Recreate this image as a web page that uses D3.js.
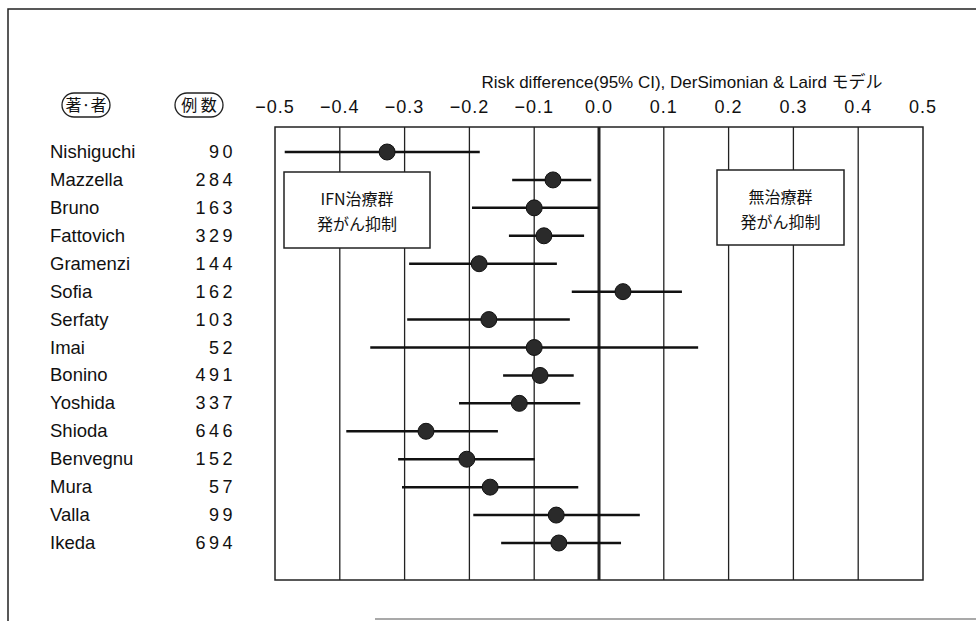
<!DOCTYPE html>
<html>
<head>
<meta charset="utf-8">
<script src="https://cdn.jsdelivr.net/npm/d3@7"></script>
<style>
  body { margin: 0; background: #fff; }
  text { fill: #111; }
</style>
</head>
<body>
<svg width="976" height="621"></svg>
<script>
// study data
var authors = ["Nishiguchi", "Mazzella", "Bruno", "Fattovich", "Gramenzi", "Sofia", "Serfaty", "Imai",
               "Bonino", "Yoshida", "Shioda", "Benvegnu", "Mura", "Valla", "Ikeda"];
var cases = [90, 284, 163, 329, 144, 162, 103, 52, 491, 337, 646, 152, 57, 99, 694];
var riskDiff = [-0.327, -0.071, -0.100, -0.085, -0.185, 0.037, -0.170, -0.100,
                -0.091, -0.123, -0.267, -0.204, -0.168, -0.066, -0.062];
var ciLow = [-0.485, -0.134, -0.196, -0.139, -0.293, -0.042, -0.296, -0.353,
             -0.148, -0.216, -0.390, -0.310, -0.304, -0.194, -0.151];
var ciHigh = [-0.184, -0.012, 0.0, -0.023, -0.065, 0.128, -0.045, 0.153,
              -0.039, -0.029, -0.156, -0.099, -0.032, 0.063, 0.034];
var ticks = [-0.5, -0.4, -0.3, -0.2, -0.1, 0.0, 0.1, 0.2, 0.3, 0.4, 0.5];

var svg = d3.select("svg");
var latin = "'Liberation Sans', Arial, sans-serif";
var jp = "'Noto Sans CJK JP', sans-serif";

// outer frame (page border)
svg.append("path")
    .attr("d", "M8,621 V9 H976")
    .attr("fill", "none")
    .attr("stroke", "#222")
    .attr("stroke-width", 1.5);
svg.append("line")
    .attr("x1", 375).attr("x2", 976).attr("y1", 619).attr("y2", 619)
    .attr("stroke", "#555").attr("stroke-width", 1.2);

// scales
var x = d3.scaleLinear().domain([-0.5, 0.5]).range([275, 923]);
var y = d3.scalePoint().domain(authors).range([152, 543]);
var plotTop = 127, plotBottom = 580;

// gridlines
svg.append("g").selectAll("line")
    .data(ticks.slice(1, -1))
    .enter().append("line")
        .attr("x1", d => x(d)).attr("x2", d => x(d))
        .attr("y1", plotTop).attr("y2", plotBottom)
        .attr("stroke", "#222")
        .attr("stroke-width", d => d === 0 ? 3 : 1.3);

// plot frame
svg.append("rect")
    .attr("x", x(-0.5)).attr("y", plotTop)
    .attr("width", x(0.5) - x(-0.5)).attr("height", plotBottom - plotTop)
    .attr("fill", "none")
    .attr("stroke", "#222")
    .attr("stroke-width", 1.5);

// tick labels
svg.append("g").selectAll("text")
    .data(ticks)
    .enter().append("text")
        .attr("x", d => x(d))
        .attr("y", 113)
        .attr("text-anchor", "middle")
        .style("font-family", latin)
        .style("font-size", "18px")
        .style("font-weight", 300)
        .style("letter-spacing", "1px")
        .text(d => (d < 0 ? "\u2212" : "") + Math.abs(d).toFixed(1));

// title
svg.append("text")
    .attr("x", 682).attr("y", 88)
    .attr("text-anchor", "middle")
    .style("font-family", latin)
    .style("font-size", "17px")
    .text("Risk difference(95% CI), DerSimonian & Laird ")
  .append("tspan")
    .style("font-family", jp)
    .text("モデル");

// column headers with rounded borders
var headers = [{t: "著·者", cx: 86}, {t: "例 数", cx: 199}];
headers.forEach(function (h) {
    svg.append("rect")
        .attr("x", h.cx - 24).attr("y", 93)
        .attr("width", 48).attr("height", 24)
        .attr("rx", 12)
        .attr("fill", "none")
        .attr("stroke", "#222")
        .attr("stroke-width", 1.3);
    svg.append("text")
        .attr("x", h.cx).attr("y", 111)
        .attr("text-anchor", "middle")
        .style("font-family", jp)
        .style("font-size", "16px")
        .text(h.t);
});

// row labels
svg.append("g").selectAll("text")
    .data(authors)
    .enter().append("text")
        .attr("x", 50)
        .attr("y", d => y(d) + 6)
        .style("font-family", latin)
        .style("font-size", "18.5px")
        .text(d => d);

svg.append("g").selectAll("text")
    .data(cases)
    .enter().append("text")
        .attr("x", 236)
        .attr("y", (d, i) => y(authors[i]) + 6)
        .attr("text-anchor", "end")
        .style("font-family", latin)
        .style("font-size", "18px")
        .style("font-weight", 300)
        .style("letter-spacing", "3.5px")
        .text(d => d);

// confidence intervals
svg.append("g").selectAll("line")
    .data(authors)
    .enter().append("line")
        .attr("x1", (d, i) => x(ciLow[i]))
        .attr("x2", (d, i) => x(ciHigh[i]))
        .attr("y1", d => y(d)).attr("y2", d => y(d))
        .attr("stroke", "#111")
        .attr("stroke-width", 2.5);

// point estimates
svg.append("g").selectAll("circle")
    .data(authors)
    .enter().append("circle")
        .attr("cx", (d, i) => x(riskDiff[i]))
        .attr("cy", d => y(d))
        .attr("r", 8)
        .attr("fill", "#2a2a2a")
        .attr("stroke", "#111")
        .attr("stroke-width", 1);

// annotation boxes
var notes = [
    {x0: 284, y0: 172, w: 146, h: 76, lines: ["IFN治療群", "発がん抑制"]},
    {x0: 717, y0: 170, w: 127, h: 75, lines: ["無治療群", "発がん抑制"]}
];
notes.forEach(function (n) {
    svg.append("rect")
        .attr("x", n.x0).attr("y", n.y0)
        .attr("width", n.w).attr("height", n.h)
        .attr("fill", "#fff")
        .attr("stroke", "#222")
        .attr("stroke-width", 1.5);
    n.lines.forEach(function (l, i) {
        svg.append("text")
            .attr("x", n.x0 + n.w / 2)
            .attr("y", n.y0 + 33 + i * 25)
            .attr("text-anchor", "middle")
            .style("font-family", jp)
            .style("font-size", "16px")
            .text(l);
    });
});
</script>
</body>
</html>
